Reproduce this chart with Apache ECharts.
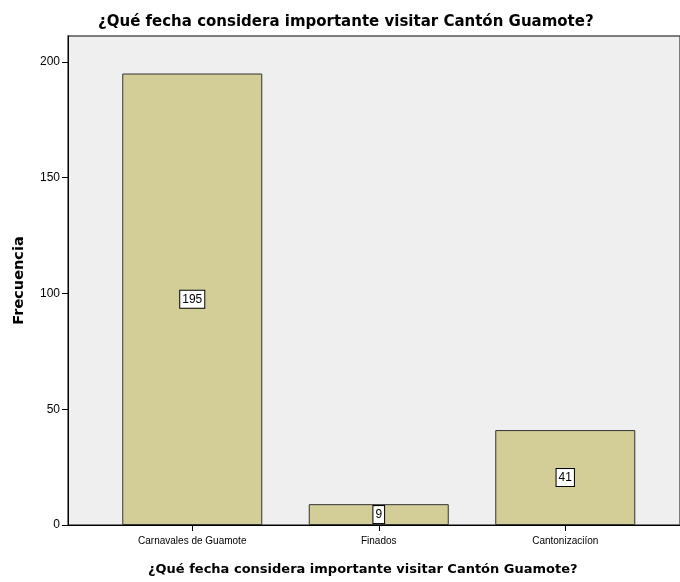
<!DOCTYPE html>
<html>
<head>
<meta charset="utf-8">
<script src="https://cdn.jsdelivr.net/npm/echarts@6/dist/echarts.min.js"></script>
<style>
  html, body { margin: 0; padding: 0; background: #ffffff; }
  #chart { width: 680px; height: 582px; }
</style>
</head>
<body>
<div id="chart"></div>
<script>
// Frequency of answers per preferred date
const categories = ['Carnavales de Guamote', 'Finados', 'Cantonizaciíon'];
const frequencies = [195, 9, 41];
const yTicks = [0, 50, 100, 150, 200];
const questionText = '¿Qué fecha considera importante visitar Cantón Guamote?';
const yAxisTitle = 'Frecuencia';

const Y_MAX = 211.2;
const BOLD_FONT = '"DejaVu Sans", sans-serif';
const SMALL_FONT = '"Liberation Sans", Arial, sans-serif';

const chart = echarts.init(document.getElementById('chart'), null, { renderer: 'canvas' });

chart.setOption({
  animation: false,
  backgroundColor: '#ffffff',
  title: [
    {
      text: questionText,
      left: 93,
      top: 10,
      textStyle: { fontFamily: BOLD_FONT, fontSize: 15, fontWeight: 'bold', color: '#000' }
    },
    {
      text: questionText,
      left: 143,
      top: 558,
      textStyle: { fontFamily: BOLD_FONT, fontSize: 13, fontWeight: 'bold', color: '#000' }
    }
  ],
  grid: [
    // panel with background and frame
    { left: 68, top: 36, right: -4, bottom: 57, show: true, backgroundColor: '#efefef',
      borderColor: '#555555', borderWidth: 1.5, containLabel: false },
    // band area holding the bars
    { left: 99, top: 36, width: 559.5, bottom: 57, containLabel: false }
  ],
  xAxis: [
    { gridIndex: 0, type: 'value', min: 0, max: 1,
      axisLine: { show: true, onZero: false, lineStyle: { color: '#000', width: 1 } },
      axisTick: { show: false }, axisLabel: { show: false }, splitLine: { show: false } },
    { gridIndex: 1, type: 'category', data: categories,
      axisLine: { show: false },
      axisTick: { show: true, alignWithLabel: true, length: 6, lineStyle: { color: '#000' } },
      axisLabel: { fontFamily: SMALL_FONT, fontSize: 10, color: '#000', margin: 11 },
      splitLine: { show: false } }
  ],
  yAxis: [
    { gridIndex: 0, type: 'value', min: 0, max: Y_MAX,
      name: yAxisTitle, nameLocation: 'middle', nameGap: 41, nameRotate: 90,
      nameTextStyle: { fontFamily: BOLD_FONT, fontSize: 14.5, fontWeight: 'bold', color: '#000' },
      axisLine: { show: true, lineStyle: { color: '#000', width: 1 } },
      axisTick: { show: true, inside: false, length: 6, lineStyle: { color: '#000' }, customValues: yTicks },
      axisLabel: { fontFamily: SMALL_FONT, fontSize: 12, color: '#000', margin: 8, customValues: yTicks },
      splitLine: { show: false } },
    { gridIndex: 1, type: 'value', min: 0, max: Y_MAX, show: false }
  ],
  series: [
    {
      type: 'bar',
      xAxisIndex: 1,
      yAxisIndex: 1,
      data: frequencies,
      barWidth: 140,
      itemStyle: { color: '#d3ce97', borderColor: '#333333', borderWidth: 1 },
      label: {
        show: true,
        position: 'inside',
        fontFamily: SMALL_FONT,
        fontSize: 12,
        color: '#000',
        backgroundColor: '#ffffff',
        borderColor: '#000',
        borderWidth: 1,
        padding: [3, 2, 2, 2]
      }
    }
  ]
});
</script>
</body>
</html>
